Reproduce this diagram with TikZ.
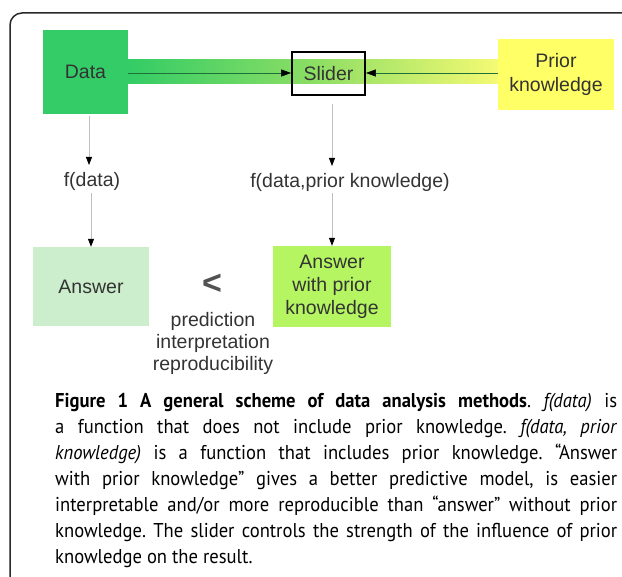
\documentclass[tikz,border=0pt]{standalone}
\usepackage{fontspec}
\setmainfont{Liberation Sans}
\newfontfamily\capfont[FakeStretch=0.93]{PT Sans}
\usetikzlibrary{arrows.meta,shadings}
\definecolor{datagreen}{RGB}{51,204,102}
\definecolor{prioryellow}{RGB}{255,255,102}
\definecolor{ansgreen}{RGB}{204,238,204}
\definecolor{anspgreen}{RGB}{181,245,98}
\definecolor{txt}{RGB}{51,51,51}
\definecolor{framegray}{RGB}{40,40,40}
\definecolor{flowgray}{RGB}{190,190,190}
\definecolor{bandmid}{RGB}{140,222,100}
\definecolor{bandright}{RGB}{245,250,115}
\tikzset{
  box/.style={draw=none, minimum width=#1, align=center, text=txt, font=\fontsize{19.5}{23}\selectfont, inner sep=0pt},
  lbl/.style={text=txt, font=\fontsize{19.5}{22}\selectfont, inner sep=0pt, align=center},
  flow/.style={draw=flowgray, line width=0.8pt, -{Triangle[black,length=8pt,width=6pt]}},
  feed/.style={draw=black!45!datagreen, line width=0.6pt, -{Triangle[black,length=10pt,width=7pt]}},
}
\begin{document}
\begin{tikzpicture}[x=1pt,y=-1pt]
\useasboundingbox (0,0) rectangle (622,577);
% frame
\draw[framegray, line width=1.5pt] (10,577) -- (10,25) arc[start angle=180,end angle=270,radius=12] -- (622,13);
% band
\shade[left color=datagreen, right color=bandright, middle color=bandmid] (128,60) rectangle (499,84);
% nodes
\node[box=85pt, minimum height=84pt, fill=datagreen] (data) at (85.5,72) {Data};
\node[box=116pt, minimum height=71pt, fill=prioryellow] (prior) at (556,74.5) {Prior\\[1pt]knowledge};
\node[draw=black, line width=1.8pt, minimum width=73pt, minimum height=43pt, text=txt, font=\fontsize{19.5}{22}\selectfont, inner sep=0pt] (slider) at (328.5,73.5) {Slider};
\node[lbl] (fd) at (92,181) {f(data)};
\node[lbl] (fdp) at (350,182) {f(data,prior knowledge)};
\node[box=116pt, minimum height=79pt, fill=ansgreen] (ans) at (91,286.5) {Answer};
\node[box=118pt, minimum height=81pt, fill=anspgreen] (ansp) at (332,286.5) {Answer\\with prior\\knowledge};
\node[text=txt!85!white, font=\bfseries\fontsize{34}{34}\selectfont, inner sep=0pt] (lt) at (212,284) {<};
\node[lbl] (crit) at (213,343) {prediction\\interpretation\\reproducibility};
% connectors
\draw[feed] (data.east |- 0,73) -- (slider.west |- 0,73);
\draw[feed] (prior.west |- 0,73) -- (slider.east |- 0,73);
\coordinate (d0) at (89,116);
\draw[flow] (d0) -- (89,165);
\draw[flow] (91,193) -- (ans.north -| 91,0);
\draw[flow] (slider.south -| 332,0) ++(0,8) -- (332,166);
\draw[flow] (332,193) -- (ansp.north -| 332,0);
% caption
\node[anchor=north west, text width=562pt, align=justify, inner sep=0pt, text=black, font=\capfont\fontsize{20}{26}\selectfont\frenchspacing] (cap) at (55,393) {%
\textbf{Figure 1 A general scheme of data analysis methods}. \textit{f(data)} is\linebreak
a function that does not include prior knowledge. \textit{f(data, prior}\linebreak
\textit{knowledge)} is a function that includes prior knowledge. “Answer\linebreak
with prior knowledge” gives a better predictive model, is easier\linebreak
interpretable and/or more reproducible than “answer” without prior\linebreak
knowledge. The slider controls the strength of the influence of prior\linebreak
knowledge on the result.};
\end{tikzpicture}
\end{document}
